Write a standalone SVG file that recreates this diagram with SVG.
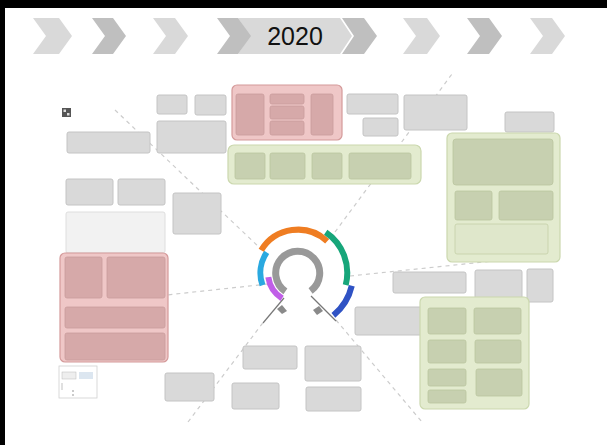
<svg xmlns="http://www.w3.org/2000/svg" width="607" height="445" viewBox="0 0 607 445">
<style>
.g{fill:#d9d9d9;stroke:#c4c4c4;stroke-width:1}
.lg{fill:#f2f2f2;stroke:#dedede;stroke-width:1}
.po{fill:#efc7c7;stroke:#d49a9a;stroke-width:1.2}
.pi{fill:#d6a9a9;stroke:#c99c9c;stroke-width:0.8}
.go{fill:#e3ebcf;stroke:#cbd8ae;stroke-width:1.2}
.gi{fill:#c7d0b0;stroke:#bac59f;stroke-width:0.8}
.gl{fill:#dfe7cb;stroke:#c4cfa7;stroke-width:0.8}
.cl{fill:#d9d9d9}
.cd{fill:#bfbfbf}
.d{fill:none;stroke:#cccccc;stroke-width:1.2;stroke-dasharray:4 4}
.arc{fill:none;stroke-width:6}
</style>
<rect x="0" y="0" width="607" height="445" fill="#ffffff"/>
<rect x="0" y="0" width="607" height="8" fill="#000000"/>
<rect x="0" y="0" width="5" height="445" fill="#000000"/>

<g id="timeline">
<polygon class="cl" points="238,18 340,18 352,36 340,54 238,54 250,36"/>
<polygon class="cl" points="33,18 59,18 72,36 59,54 33,54 46,36"/>
<polygon class="cd" points="92,18 113,18 126,36 113,54 92,54 105,36"/>
<polygon class="cl" points="153,18 175,18 188,36 175,54 153,54 166,36"/>
<polygon class="cd" points="217,18 238,18 251,36 238,54 217,54 230,36"/>
<polygon class="cd" points="342,18 364,18 377,36 364,54 342,54 354,36"/>
<polygon class="cl" points="403,18 427,18 440,36 427,54 403,54 416,36"/>
<polygon class="cd" points="467,18 489,18 502,36 489,54 467,54 480,36"/>
<polygon class="cl" points="530,18 552,18 565,36 552,54 530,54 543,36"/>
<text x="295" y="45" font-family="Liberation Sans, Arial, sans-serif" font-size="25" fill="#111111" text-anchor="middle">2020</text>
</g>

<g id="connectors">
<line class="d" x1="115" y1="110" x2="262" y2="250"/>
<line class="d" x1="335" y1="232" x2="452" y2="74"/>
<line class="d" x1="350" y1="276" x2="560" y2="254"/>
<line class="d" x1="65" y1="306" x2="268" y2="284"/>
<line class="d" x1="188" y1="422" x2="265" y2="320"/>
<line class="d" x1="336" y1="320" x2="422" y2="422"/>
<line x1="284" y1="298" x2="263" y2="323" stroke="#777777" stroke-width="1.2"/>
<line x1="311" y1="296" x2="336" y2="321" stroke="#777777" stroke-width="1.2"/>
</g>

<g id="info">
<rect x="62" y="108" width="9" height="9" fill="#555555"/>
<rect x="63.5" y="109.5" width="2.5" height="2.5" fill="#dddddd"/>
<rect x="67" y="113" width="2.5" height="2.5" fill="#dddddd"/>
</g>

<g id="n-a"><rect class="g" x="157" y="95" width="30" height="19" rx="2"/></g>
<g id="n-b"><rect class="g" x="195" y="95" width="31" height="20" rx="2"/></g>
<g id="n-c"><rect class="g" x="157" y="121" width="69" height="32" rx="2"/></g>
<g id="n-d"><rect class="g" x="67" y="132" width="83" height="21" rx="2"/></g>

<g id="pink-top">
<rect class="po" x="232" y="85" width="110" height="55" rx="5"/>
<rect class="pi" x="236" y="94" width="28" height="41" rx="2"/>
<rect class="pi" x="270" y="94" width="34" height="10" rx="2"/>
<rect class="pi" x="270" y="106" width="34" height="13" rx="2"/>
<rect class="pi" x="270" y="121" width="34" height="14" rx="2"/>
<rect class="pi" x="311" y="94" width="22" height="41" rx="2"/>
</g>

<g id="green-top">
<rect class="go" x="228" y="145" width="193" height="39" rx="6"/>
<rect class="gi" x="235" y="153" width="30" height="26" rx="2"/>
<rect class="gi" x="270" y="153" width="35" height="26" rx="2"/>
<rect class="gi" x="312" y="153" width="30" height="26" rx="2"/>
<rect class="gi" x="349" y="153" width="62" height="26" rx="2"/>
</g>

<g id="n-e"><rect class="g" x="347" y="94" width="51" height="20" rx="2"/></g>
<g id="n-f"><rect class="g" x="363" y="118" width="35" height="18" rx="2"/></g>
<g id="n-g"><rect class="g" x="404" y="95" width="63" height="35" rx="2"/></g>
<g id="n-h"><rect class="g" x="505" y="112" width="49" height="20" rx="2"/></g>

<g id="green-right">
<rect class="go" x="447" y="133" width="113" height="129" rx="5"/>
<rect class="gi" x="453" y="139" width="100" height="46" rx="3"/>
<rect class="gi" x="455" y="191" width="37" height="29" rx="2"/>
<rect class="gi" x="499" y="191" width="54" height="29" rx="2"/>
<rect class="gl" x="455" y="224" width="93" height="30" rx="2"/>
</g>

<g id="n-i"><rect class="g" x="66" y="179" width="47" height="26" rx="2"/></g>
<g id="n-j"><rect class="g" x="118" y="179" width="47" height="26" rx="2"/></g>
<g id="n-k"><rect class="lg" x="66" y="212" width="99" height="41" rx="2"/></g>
<g id="n-l"><rect class="g" x="173" y="193" width="48" height="41" rx="2"/></g>

<g id="pink-left">
<rect class="po" x="60" y="253" width="108" height="109" rx="5"/>
<rect class="pi" x="65" y="257" width="37" height="41" rx="2"/>
<rect class="pi" x="107" y="257" width="58" height="41" rx="2"/>
<rect class="pi" x="65" y="307" width="100" height="21" rx="2"/>
<rect class="pi" x="65" y="333" width="100" height="27" rx="2"/>
</g>

<g id="legend">
<rect x="59" y="366" width="38" height="32" fill="#ffffff" stroke="#d0d0d0" stroke-width="0.8"/>
<rect x="62" y="372" width="14" height="7" fill="#eeeeee" stroke="#bbbbbb" stroke-width="0.5"/>
<rect x="79" y="372" width="14" height="7" fill="#dce6f0"/>
<line x1="62" y1="383" x2="62" y2="390" stroke="#999999" stroke-width="0.6"/>
<circle cx="73" cy="391" r="0.8" fill="#888888"/>
<circle cx="73" cy="395" r="0.8" fill="#888888"/>
</g>

<g id="n-m"><rect class="g" x="165" y="373" width="49" height="28" rx="2"/></g>
<g id="n-n"><rect class="g" x="232" y="383" width="47" height="26" rx="2"/></g>
<g id="n-o"><rect class="g" x="243" y="346" width="54" height="23" rx="2"/></g>
<g id="n-p"><rect class="g" x="305" y="346" width="56" height="35" rx="2"/></g>
<g id="n-q"><rect class="g" x="306" y="387" width="55" height="24" rx="2"/></g>

<g id="n-r"><rect class="g" x="393" y="272" width="73" height="21" rx="2"/></g>
<g id="n-s"><rect class="g" x="475" y="270" width="47" height="33" rx="2"/></g>
<g id="n-t"><rect class="g" x="527" y="269" width="26" height="33" rx="2"/></g>
<g id="n-u"><rect class="g" x="355" y="307" width="67" height="28" rx="2"/></g>

<g id="green-bottom">
<rect class="go" x="420" y="297" width="109" height="112" rx="5"/>
<rect class="gi" x="428" y="308" width="38" height="26" rx="2"/>
<rect class="gi" x="474" y="308" width="47" height="26" rx="2"/>
<rect class="gi" x="428" y="340" width="38" height="23" rx="2"/>
<rect class="gi" x="475" y="340" width="46" height="23" rx="2"/>
<rect class="gi" x="428" y="369" width="38" height="17" rx="2"/>
<rect class="gi" x="428" y="390" width="38" height="13" rx="2"/>
<rect class="gi" x="476" y="369" width="46" height="27" rx="2"/>
</g>

<g id="cycle">
<path d="M 285.4 291.4 A 22 22 0 1 1 310.6 291.0" fill="none" stroke="#999999" stroke-width="7"/>
<polygon points="277,309 282,305 287,311 282,314" fill="#8a8a8a"/>
<polygon points="313,310 319,306 323,311 317,315" fill="#8a8a8a"/>
<path d="M 268.3 277.2 A 30 30 0 0 0 282.1 298.4" class="arc" stroke="#c05ee8"/>
<path d="M 266.7 252.4 A 37 37 0 0 0 262.5 285.3" class="arc" stroke="#2aa9e0"/>
<path d="M 261.2 250.3 A 43 43 0 0 1 327.2 241.2" class="arc" stroke="#ef7d22"/>
<path d="M 325.7 232.2 A 49 49 0 0 1 345.7 285.0" class="arc" stroke="#17a67a"/>
<path d="M 351.8 285.7 A 55 55 0 0 1 333.4 315.4" class="arc" stroke="#2f52c4"/>
</g>
</svg>
